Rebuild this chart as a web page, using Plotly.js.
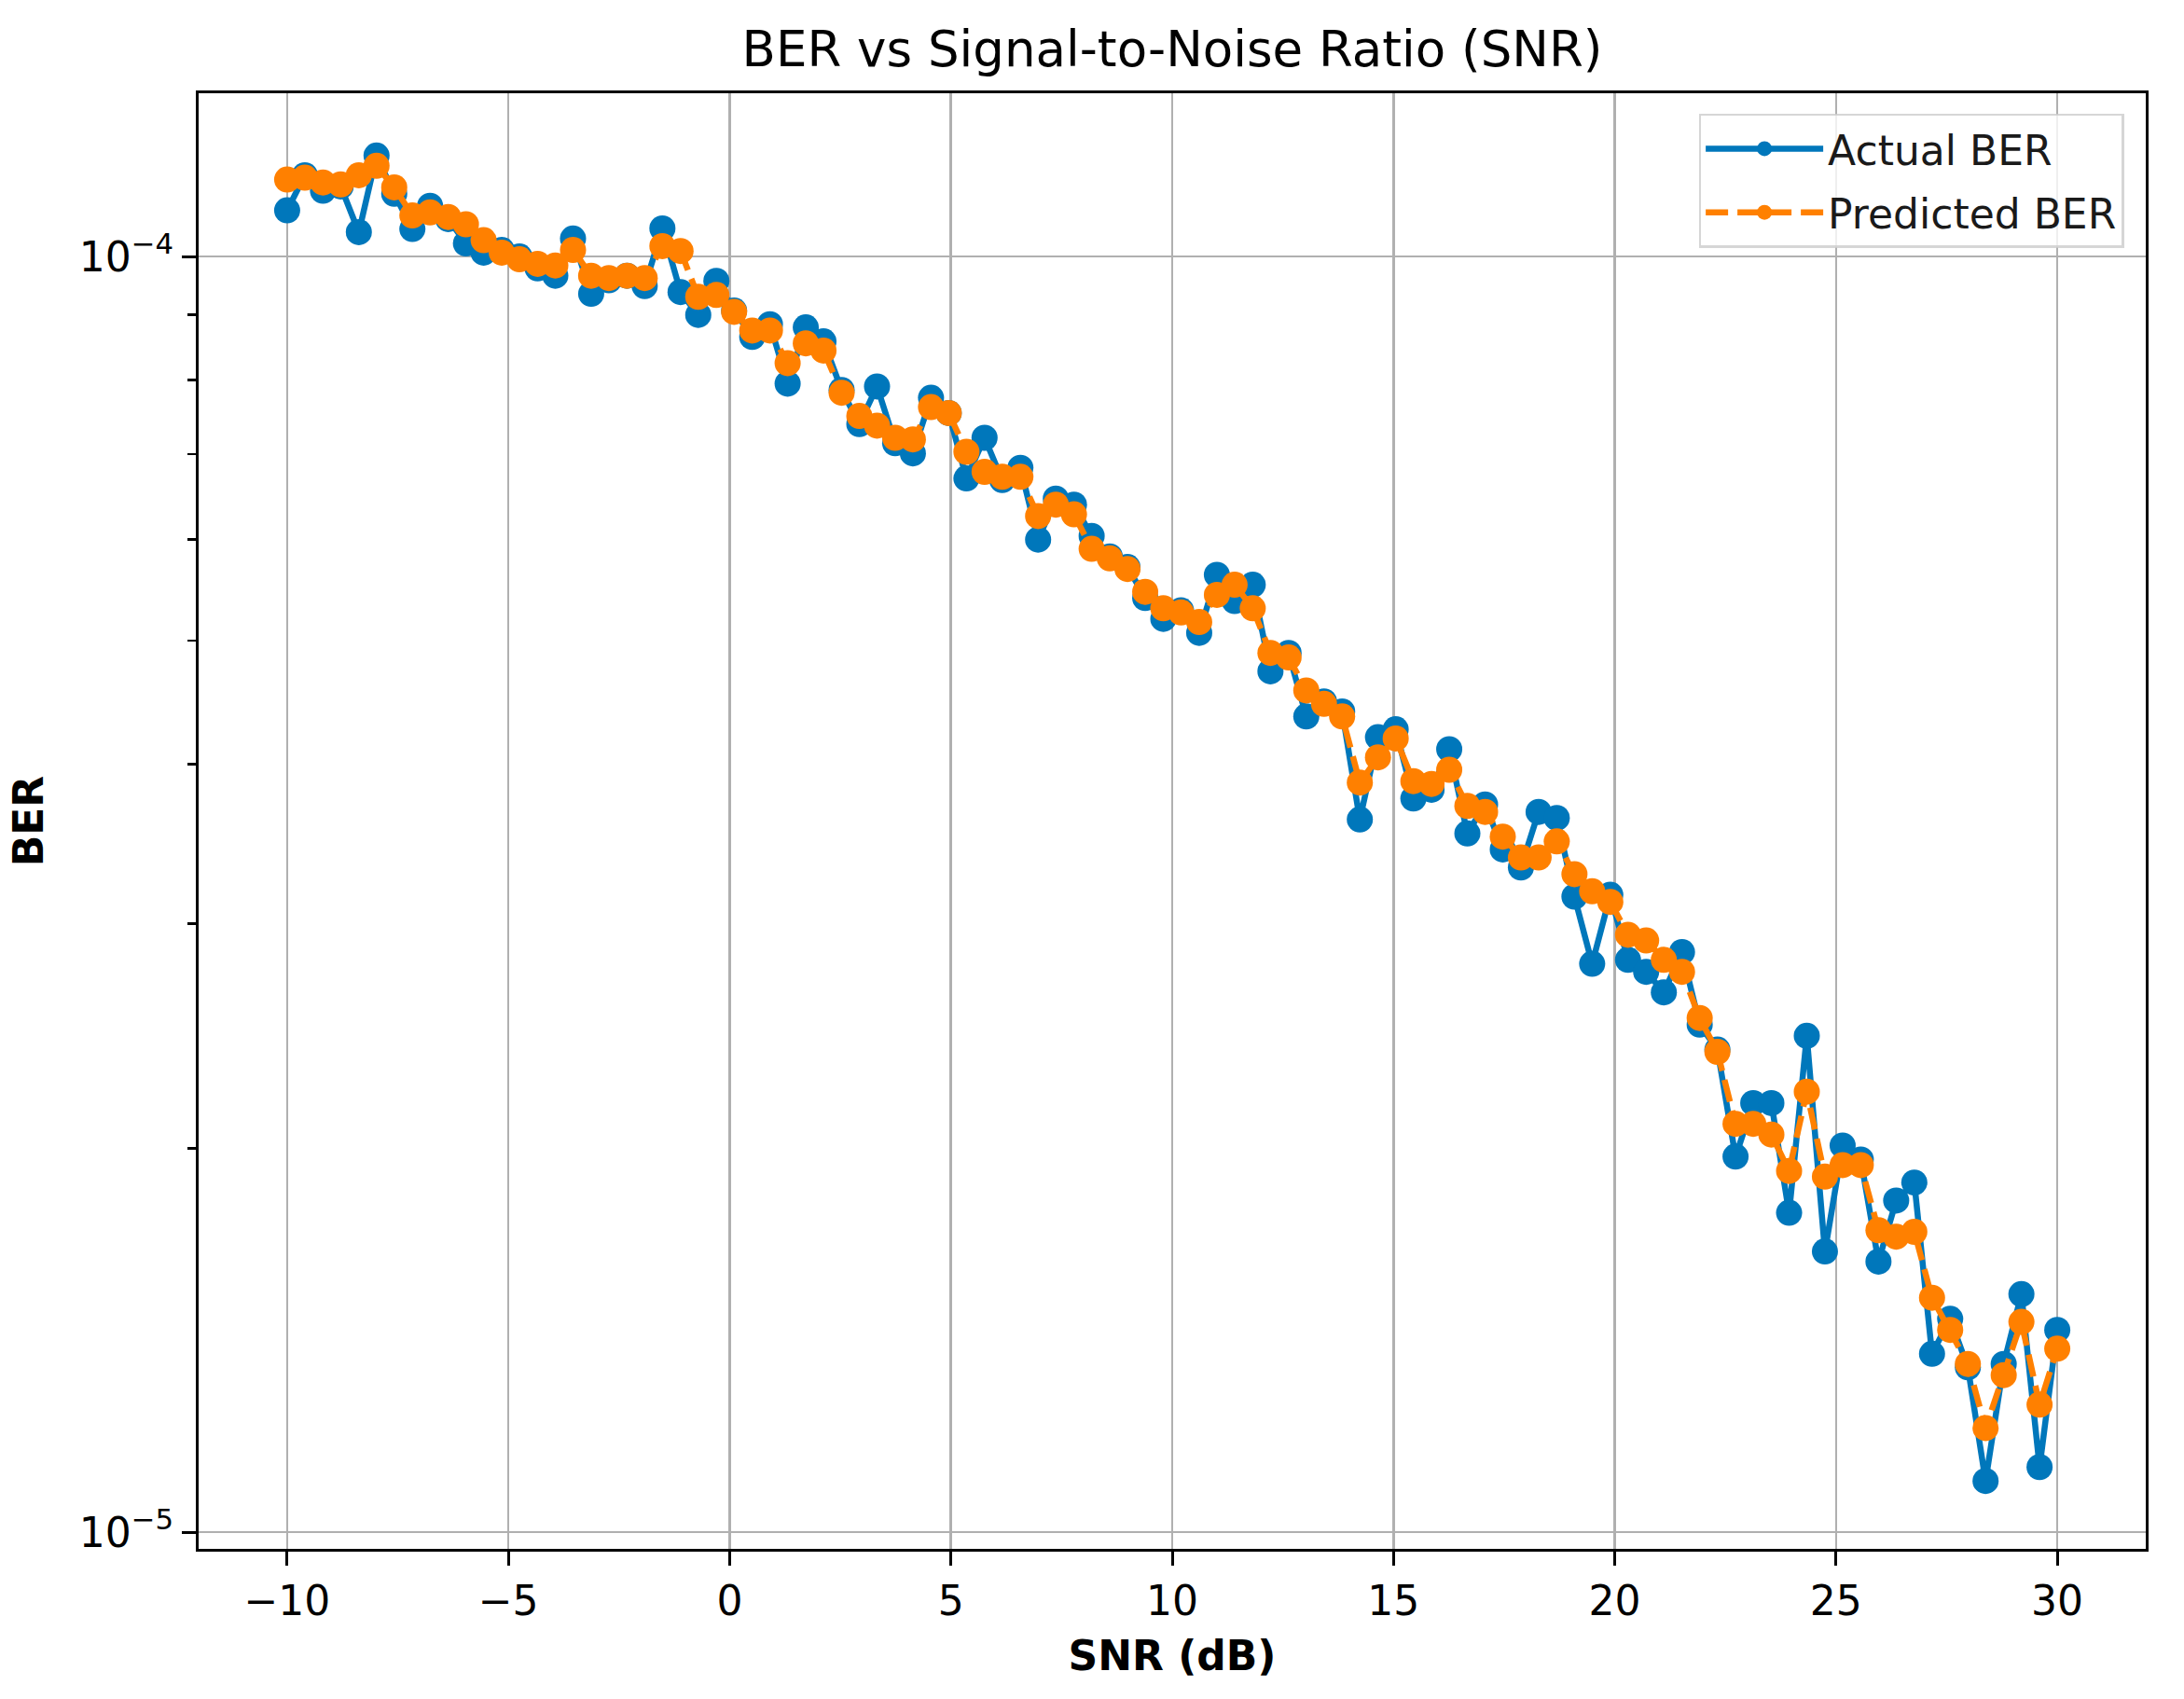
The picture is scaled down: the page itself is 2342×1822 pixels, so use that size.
<!DOCTYPE html>
<html>
<head>
<meta charset="utf-8">
<script src="https://cdn.plot.ly/plotly-3.0.1.min.js"></script>
<style>html,body{margin:0;padding:0;background:#fff;}#chart{width:2342px;height:1822px;}</style>
</head>
<body>
<div id="chart"></div>
<script>
// SNR values (dB)
const snr = [
-10.00,-9.60,-9.19,-8.79,-8.38,-7.98,-7.58,-7.17,-6.77,-6.36,
-5.96,-5.56,-5.15,-4.75,-4.34,-3.94,-3.54,-3.13,-2.73,-2.32,
-1.92,-1.52,-1.11,-0.71,-0.30,0.10,0.51,0.91,1.31,1.72,
2.12,2.53,2.93,3.33,3.74,4.14,4.55,4.95,5.35,5.76,
6.16,6.57,6.97,7.37,7.78,8.18,8.59,8.99,9.39,9.80,
10.20,10.61,11.01,11.41,11.82,12.22,12.63,13.03,13.43,13.84,
14.24,14.65,15.05,15.45,15.86,16.26,16.67,17.07,17.47,17.88,
18.28,18.69,19.09,19.49,19.90,20.30,20.71,21.11,21.52,21.92,
22.32,22.73,23.13,23.54,23.94,24.34,24.75,25.15,25.56,25.96,
26.36,26.77,27.17,27.58,27.98,28.38,28.79,29.19,29.60,30.00
];
// Actual BER
const actualBER = [
1.087e-4,1.158e-4,1.126e-4,1.135e-4,1.045e-4,1.200e-4,1.120e-4,1.051e-4,1.096e-4,1.070e-4,
1.024e-4,1.007e-4,1.012e-4,1.000e-4,0.979e-4,0.966e-4,1.033e-4,0.935e-4,0.958e-4,0.966e-4,
0.948e-4,1.052e-4,0.938e-4,0.900e-4,0.957e-4,0.907e-4,0.865e-4,0.885e-4,0.795e-4,0.880e-4,
0.858e-4,0.786e-4,0.739e-4,0.791e-4,0.714e-4,0.701e-4,0.775e-4,0.754e-4,0.670e-4,0.721e-4,
0.668e-4,0.683e-4,0.600e-4,0.646e-4,0.639e-4,0.604e-4,0.582e-4,0.571e-4,0.540e-4,0.520e-4,
0.528e-4,0.507e-4,0.563e-4,0.537e-4,0.553e-4,0.473e-4,0.489e-4,0.436e-4,0.448e-4,0.440e-4,
0.362e-4,0.420e-4,0.426e-4,0.376e-4,0.382e-4,0.411e-4,0.353e-4,0.372e-4,0.343e-4,0.332e-4,
0.367e-4,0.363e-4,0.315e-4,0.279e-4,0.316e-4,0.281e-4,0.275e-4,0.265e-4,0.285e-4,0.250e-4,
0.239e-4,0.197e-4,0.217e-4,0.217e-4,0.178e-4,0.245e-4,0.166e-4,0.201e-4,0.196e-4,0.163e-4,
0.182e-4,0.188e-4,0.138e-4,0.147e-4,0.1347e-4,0.1097e-4,0.1355e-4,0.1537e-4,0.1125e-4,0.1441e-4
];
// Predicted BER
const predictedBER = [
1.149e-4,1.153e-4,1.143e-4,1.139e-4,1.158e-4,1.178e-4,1.133e-4,1.077e-4,1.083e-4,1.074e-4,
1.060e-4,1.030e-4,1.007e-4,0.995e-4,0.987e-4,0.984e-4,1.012e-4,0.966e-4,0.962e-4,0.966e-4,
0.962e-4,1.019e-4,1.010e-4,0.930e-4,0.933e-4,0.905e-4,0.875e-4,0.875e-4,0.825e-4,0.855e-4,
0.844e-4,0.782e-4,0.750e-4,0.737e-4,0.721e-4,0.719e-4,0.762e-4,0.754e-4,0.703e-4,0.678e-4,
0.672e-4,0.672e-4,0.626e-4,0.639e-4,0.628e-4,0.590e-4,0.580e-4,0.569e-4,0.546e-4,0.530e-4,
0.526e-4,0.517e-4,0.543e-4,0.553e-4,0.530e-4,0.489e-4,0.485e-4,0.457e-4,0.446e-4,0.436e-4,
0.387e-4,0.405e-4,0.419e-4,0.388e-4,0.386e-4,0.396e-4,0.371e-4,0.367e-4,0.351e-4,0.338e-4,
0.338e-4,0.348e-4,0.328e-4,0.318e-4,0.312e-4,0.294e-4,0.291e-4,0.281e-4,0.275e-4,0.253e-4,
0.238e-4,0.209e-4,0.209e-4,0.205e-4,0.192e-4,0.2215e-4,0.190e-4,0.194e-4,0.194e-4,0.1725e-4,
0.1705e-4,0.172e-4,0.1527e-4,0.1441e-4,0.1355e-4,0.1207e-4,0.1328e-4,0.1462e-4,0.1259e-4,0.1393e-4
];
// Tick labels
const xTickVals = [-10,-5,0,5,10,15,20,25,30];
const xTickText = ['\u221210','\u22125','0','5','10','15','20','25','30'];
const yTickVals = [1e-5,1e-4];
const yTickText = ['10<sup>\u22125</sup>','10<sup>\u22124</sup>'];
const yMinorVals = [2e-5,3e-5,4e-5,5e-5,6e-5,7e-5,8e-5,9e-5];

const FONT = 'DejaVu Sans, Liberation Sans, sans-serif';
const BLUE = '#0077bb';
const ORANGE = '#ff8000';

const traces = [
  {x: snr, y: actualBER, name: 'Actual BER', type: 'scatter', mode: 'lines+markers', legendgroup: 'a',
   line: {color: BLUE, width: 6.5}, marker: {color: BLUE, size: 28}},
  {x: snr, y: predictedBER, name: 'Predicted BER', type: 'scatter', mode: 'lines+markers', legendgroup: 'p',
   line: {color: ORANGE, width: 6.5, dash: '24px,10px'}, marker: {color: ORANGE, size: 28}}
];

const axisCommon = {
  showline: true, linecolor: '#000', linewidth: 3, mirror: true,
  ticks: 'outside', ticklen: 15, tickwidth: 3, tickcolor: '#000',
  showgrid: true, gridcolor: '#b0b0b0', gridwidth: 2.5, zeroline: false,
  tickfont: {family: FONT, size: 44, color: '#000'}
};

const layout = {
  width: 2342, height: 1822, autosize: false,
  margin: {l: 213, r: 41, t: 100, b: 161, pad: 0},
  paper_bgcolor: '#fff', plot_bgcolor: '#fff',
  font: {family: FONT, color: '#000'},
  title: {text: 'BER vs Signal-to-Noise Ratio (SNR)', font: {family: FONT, size: 53, color: '#000'},
          x: 0.5, xref: 'paper', xanchor: 'center', y: 0.971, yref: 'container', yanchor: 'middle'},
  xaxis: Object.assign({}, axisCommon, {
    range: [-12, 32], tickmode: 'array', tickvals: xTickVals, ticktext: xTickText,
    title: {text: '<b>SNR (dB)</b>', font: {family: FONT, size: 44, color: '#000'}, standoff: 20}
  }),
  yaxis: Object.assign({}, axisCommon, {
    type: 'log', range: [-5.013, -3.872], tickmode: 'array', tickvals: yTickVals, ticktext: yTickText,
    minor: {tickmode: 'array', tickvals: yMinorVals, ticks: 'outside', ticklen: 9, tickwidth: 2.6, tickcolor: '#000', showgrid: false},
    title: {text: '<b>BER</b>', font: {family: FONT, size: 44, color: '#000'}, standoff: 25}
  }),
  legend: {x: 0.9888, xanchor: 'right', y: 0.986, yanchor: 'top',
           bgcolor: 'rgba(255,255,255,0.8)', bordercolor: 'rgba(204,204,204,0.8)', borderwidth: 2.5,
           font: {family: FONT, size: 44, color: '#1a1a1a'}, itemwidth: 126,
           traceorder: 'grouped', tracegroupgap: 8},
  showlegend: true
};

Plotly.newPlot('chart', traces, layout, {displayModeBar: false, staticPlot: true});
</script>
</body>
</html>
